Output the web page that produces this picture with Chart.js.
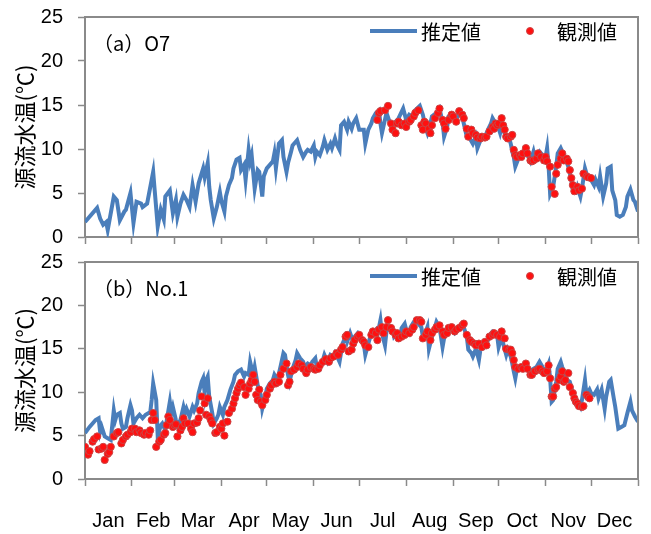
<!DOCTYPE html>
<html><head><meta charset="utf-8">
<script src="https://cdn.jsdelivr.net/npm/chart.js@4.4.0/dist/chart.umd.min.js"></script>
<style>
html,body{margin:0;padding:0;background:#fff;}
#wrap{position:relative;width:651px;height:534px;}
canvas{position:absolute;left:0;}
</style></head><body>
<div id="wrap">
<canvas id="c1" width="651" height="250" style="top:0"></canvas>
<canvas id="c2" width="651" height="284" style="top:250px"></canvas>
</div>
<script>
// ---- categories / ticks ----
const monthBounds = [0,31,59,90,120,151,181,212,243,273,304,334,365];
const monthLabels = ['Jan','Feb','Mar','Apr','May','Jun','Jul','Aug','Sep','Oct','Nov','Dec'];
const yTicks = [0,5,10,15,20,25];
const yTitle = '源流水温(℃)';
const seriesNames = ['推定値','観測値'];
const panelTitles = ['（a）O7','（b）No.1'];

// ---- (a) O7 estimated ----
const o7EstDays = [0,8,10,12,14,15,19,21,23,26,27,30,32,34,37,38,41,45,46,48,50,52,53,56,58,60,61,63,65,67,69,71,73,75,78,79,81,82,83,85,87,89,90,92,93,95,97,98,100,102,103,105,106,108,109,110,112,114,115,117,118,120,122,124,125,126,128,130,131,133,134,136,137,140,142,144,146,147,149,151,152,153,155,157,158,160,162,163,165,166,168,169,171,173,174,176,177,179,181,184,185,187,189,190,192,194,195,196,199,201,203,205,207,210,212,214,216,218,221,223,225,226,228,229,232,234,236,237,239,240,243,245,247,249,250,252,254,256,258,259,261,264,266,268,269,271,272,274,275,278,280,281,282,283,284,286,288,290,292,294,296,297,300,302,304,305,306,307,309,311,312,314,316,317,319,321,322,324,325,327,328,330,332,334,336,337,339,340,342,344,345,347,348,350,351,353,355,357,358,360,362,363,365];
const o7EstVals = [1.7,3.3,2.1,1.4,1.7,0.8,4.6,4.2,1.9,2.9,3.1,5.0,1.6,4.0,3.8,3.4,3.8,7.4,5.3,1.2,3.1,2.0,4.6,5.3,2.7,4.2,2.3,3.8,4.8,4.2,3.4,5.9,4.0,6.1,7.8,6.8,8.4,5.7,4.2,2.1,3.4,5.1,4.1,2.9,4.6,5.9,6.7,7.8,8.8,9.0,7.6,8.2,6.5,9.9,8.6,9.3,5.5,7.6,7.4,4.6,6.9,7.8,8.2,8.6,9.5,7.8,10.6,11.0,9.1,7.4,8.4,9.7,10.4,11.0,9.9,9.1,9.7,9.9,9.7,10.4,9.1,9.7,9.3,10.3,11.0,9.9,10.6,10.1,11.2,10.6,9.9,12.7,13.1,12.2,13.1,12.3,12.9,13.5,12.2,12.2,10.6,12.2,12.9,13.5,14.1,14.4,12.9,11.8,14.1,13.1,12.7,13.1,13.5,14.6,13.3,13.9,13.7,14.4,14.9,13.9,12.3,11.8,12.9,13.7,14.1,14.6,13.1,11.4,12.5,13.7,13.9,13.3,14.2,13.7,12.9,11.4,11.2,10.6,11.4,10.1,11.0,11.4,12.2,12.9,13.5,12.9,12.9,11.8,12.5,11.4,11.2,10.6,9.7,9.1,8.0,8.9,9.3,9.9,9.3,8.6,9.7,8.9,9.7,9.3,9.1,10.1,8.0,4.9,5.7,8.0,9.5,10.1,9.3,8.9,8.0,6.5,5.3,5.1,5.7,4.6,5.5,7.8,6.6,6.5,5.9,6.5,5.7,6.9,4.6,6.1,7.8,8.0,5.3,4.2,2.5,2.3,2.5,3.4,4.6,5.4,4.2,4.0,2.9];

// ---- (a) O7 observed ----
const o7ObsDays = [193,194,195,198,200,202,203,205,206,207,209,211,212,214,215,217,218,220,222,223,224,225,227,228,229,231,233,234,236,237,238,240,242,243,245,247,249,250,252,253,255,256,258,259,261,262,264,265,267,269,270,271,272,273,275,276,277,278,279,281,282,283,284,285,287,288,289,291,292,294,295,296,298,299,301,303,304,305,307,308,310,311,312,314,315,316,318,319,320,321,322,323,325,326,328,329,331,332,334];
const o7ObsVals = [13.3,14.1,14.3,14.4,14.9,12.9,12.2,11.8,12.9,13.1,12.7,12.9,12.5,13.1,13.3,13.7,14.1,14.4,12.7,12.2,13.1,12.9,12.3,11.8,12.7,13.5,14.1,14.6,13.3,12.9,12.3,13.3,13.9,13.7,13.1,14.3,13.9,13.5,12.3,11.4,12.2,11.8,11.6,11.3,11.2,11.4,11.3,11.4,12.0,12.5,12.3,12.9,12.7,12.9,13.5,12.7,12.2,11.4,11.2,11.4,11.6,9.9,9.3,9.1,9.3,9.1,9.5,10.1,9.5,8.7,8.6,8.7,8.9,9.5,9.1,8.7,9.1,8.6,8.0,5.7,4.9,7.2,8.2,8.9,9.5,8.7,8.9,8.6,7.6,6.7,5.9,5.2,5.7,5.3,5.5,7.2,6.9,6.8,6.7];

// ---- (b) No.1 estimated ----
const n1EstDays = [0,3,5,7,9,10,11,13,15,17,19,20,21,23,24,25,27,28,30,31,32,34,36,38,40,42,43,44,45,47,48,50,51,53,54,56,57,58,60,61,63,65,66,67,69,71,72,74,75,77,78,79,80,81,82,84,85,87,88,89,91,92,94,96,98,99,101,103,105,106,108,109,111,112,114,116,117,119,120,122,124,125,127,129,131,132,134,135,137,139,140,142,144,145,147,149,150,152,153,155,157,158,160,162,164,165,167,168,170,172,173,175,177,178,180,182,184,185,187,188,190,192,193,195,196,198,199,201,203,204,206,208,209,211,212,214,215,217,219,220,222,223,225,226,227,229,231,232,234,236,237,239,241,242,244,245,247,249,250,252,253,255,256,258,260,261,264,266,267,269,271,272,273,275,276,278,279,281,282,283,284,285,287,289,291,293,295,298,300,302,304,306,307,308,309,311,312,314,315,317,318,320,322,323,325,327,328,330,331,333,334,336,338,339,341,343,344,346,347,349,350,352,354,356,358,360,361,363,365];
const n1EstVals = [5.3,6.0,6.4,6.8,7.0,5.4,6.0,4.9,4.7,4.5,7.9,6.8,7.4,7.6,6.4,5.8,6.0,7.0,8.5,7.9,6.4,7.0,7.4,7.0,7.4,7.6,7.6,9.1,11.0,9.1,4.9,6.2,6.4,5.6,6.8,8.9,7.6,8.3,6.8,6.2,6.8,8.3,7.6,8.1,7.2,8.3,7.9,8.7,9.9,11.2,11.6,9.9,11.4,11.8,9.5,7.6,6.4,7.0,7.4,8.3,7.4,8.3,9.1,10.3,11.2,12.0,12.4,12.6,11.8,12.2,12.0,13.5,12.0,12.9,10.8,9.7,8.1,9.5,10.4,11.0,11.4,12.0,11.4,12.9,14.5,14.3,12.0,11.2,12.7,13.7,14.5,13.9,13.5,12.9,13.3,13.1,13.5,13.9,12.9,12.7,13.7,14.3,13.5,14.3,14.1,14.5,13.9,13.5,15.6,16.4,15.8,16.8,15.8,16.4,16.8,16.2,15.6,14.3,15.6,16.2,16.8,17.2,16.6,18.3,16.8,15.4,17.0,17.5,17.2,16.4,16.8,16.4,17.4,17.9,17.2,16.8,17.5,18.1,18.3,17.9,17.5,16.4,17.0,17.5,15.0,16.4,17.5,18.1,17.5,15.2,16.2,17.0,17.5,17.2,16.8,17.0,17.5,17.9,17.5,16.4,14.9,14.5,14.1,15.0,13.7,14.9,15.2,16.0,16.6,17.0,16.8,16.6,15.2,16.4,15.6,14.3,14.9,14.1,13.3,12.4,11.6,12.6,12.9,12.6,13.1,12.4,12.6,12.9,13.5,12.9,12.4,13.3,11.6,8.9,9.1,11.2,12.7,13.5,12.9,12.2,11.4,11.2,9.9,9.1,8.9,8.3,9.1,11.4,9.7,10.3,9.9,9.7,10.3,9.3,10.3,8.1,9.5,11.2,11.4,9.3,8.3,5.8,6.0,6.2,7.6,8.9,7.9,7.2,6.6];

// ---- (b) No.1 observed ----
const n1ObsDays = [0,2,3,5,6,8,9,11,12,13,15,16,17,19,21,22,24,25,27,28,30,31,33,34,36,37,39,40,42,43,44,45,46,47,49,50,52,53,54,55,56,58,59,60,61,63,64,65,66,68,70,71,72,74,75,76,77,79,80,81,82,83,84,86,87,89,90,91,92,94,95,97,98,99,100,101,102,103,105,106,108,109,110,111,112,113,114,115,116,117,119,120,122,123,125,126,128,129,131,133,134,135,136,138,140,141,143,144,146,147,149,151,152,154,155,157,159,161,162,164,166,167,169,170,172,173,174,176,177,178,180,181,183,184,185,187,189,190,192,193,194,196,197,199,200,202,203,205,206,207,209,211,212,214,216,217,219,221,222,223,225,226,228,229,231,232,234,236,237,239,240,242,244,245,247,249,250,252,254,255,257,258,260,262,264,265,267,269,270,272,274,275,277,278,280,281,282,283,284,286,288,289,291,292,294,295,297,299,300,302,303,305,306,307,308,309,310,311,313,314,315,316,317,319,320,322,323,324,325,326,328,329,331,332,333];
const n1ObsVals = [3.7,2.8,3.2,4.3,4.6,4.9,3.4,3.5,3.7,2.2,2.9,3.1,3.7,4.9,5.3,5.4,4.1,4.5,4.9,5.1,5.4,5.8,5.8,5.4,5.6,5.3,5.1,5.3,5.1,5.6,6.8,7.6,6.8,3.7,4.3,4.5,5.1,5.3,6.2,7.2,6.8,6.0,6.2,6.3,4.9,5.6,6.0,7.0,6.4,6.4,5.8,5.4,6.4,6.5,7.0,7.9,9.5,8.7,7.4,9.3,7.2,6.8,6.4,5.3,5.4,6.0,5.8,6.4,5.0,6.6,7.6,8.1,8.7,9.3,9.9,10.4,10.8,11.1,10.6,9.7,10.4,11.0,11.4,12.0,11.2,9.7,9.1,10.3,8.9,8.5,9.1,9.7,10.4,10.8,11.2,11.0,11.2,12.0,12.7,13.3,10.8,11.2,12.4,12.6,12.9,13.3,13.1,12.7,12.2,12.6,12.9,12.7,12.6,12.7,13.1,13.5,13.8,13.5,13.9,14.1,14.5,14.3,14.9,15.2,16.4,16.6,14.7,14.9,15.6,16.0,16.4,16.6,16.0,15.8,15.4,15.2,16.6,17.0,16.8,16.0,17.2,17.5,16.8,17.5,18.3,17.4,17.0,16.6,16.8,16.2,16.4,16.6,17.0,16.8,17.2,17.5,18.3,18.3,18.1,16.2,16.6,17.0,16.0,16.8,17.2,17.5,17.7,17.0,16.6,16.8,17.4,17.5,17.0,17.2,17.4,17.7,17.9,16.6,16.0,15.8,15.6,15.4,15.6,15.2,15.8,15.4,16.4,16.6,16.8,16.6,16.4,17.0,16.2,15.0,14.9,14.9,14.5,13.7,12.9,12.7,12.9,12.7,13.3,12.7,12.0,12.0,12.4,12.6,12.7,12.4,12.2,12.4,13.1,11.6,9.5,9.5,10.4,10.6,11.4,11.8,12.4,11.2,11.4,12.2,10.6,9.9,9.3,8.9,8.7,8.4,8.3,8.4,9.7,9.5,9.3];

// ---- styling ----
const AXIS = '#8a8a8a';
const BLUE = '#4a7ebb';
const RED = '#ff1010';
const RED_EDGE = '#cc4444';
const LAT = '"Liberation Sans", Arial, sans-serif';
const CJK = '"Noto Sans CJK JP", sans-serif';

function pts(days, vals){ return days.map((d,i)=>({x:d, y:vals[i]})); }

const framePlugin = {
  id:'frame',
  afterDraw(chart, args, opts){
    const {ctx, chartArea:a} = chart;
    ctx.save();
    ctx.strokeStyle = AXIS; ctx.lineWidth = 2;
    ctx.beginPath();
    ctx.moveTo(a.left, a.top); ctx.lineTo(a.right, a.top); ctx.lineTo(a.right, a.bottom);
    ctx.stroke();
    // panel label
    ctx.fillStyle = '#000';
    ctx.font = '20px ' + CJK;
    ctx.textBaseline = 'middle'; ctx.textAlign = 'left';
    ctx.fillText(opts.label, a.left + 8, a.top + 26);
    // legend
    const ly = a.top + 14;
    const est = chart.data.datasets[1], obs = chart.data.datasets[0];
    ctx.strokeStyle = est.borderColor; ctx.lineWidth = 4;
    ctx.beginPath(); ctx.moveTo(370, ly); ctx.lineTo(417, ly); ctx.stroke();
    ctx.fillStyle = '#000';
    ctx.fillText(est.label, 421, ly + 1);
    ctx.beginPath(); ctx.arc(530, ly, 3.5, 0, Math.PI*2);
    ctx.fillStyle = obs.backgroundColor; ctx.fill();
    ctx.strokeStyle = obs.borderColor; ctx.lineWidth = 1; ctx.stroke();
    ctx.fillStyle = '#000';
    ctx.fillText(obs.label, 557, ly + 1);
    ctx.restore();
  }
};

function makeChart(id, estD, estV, obsD, obsV, label, showMonths, topPad, xH){
  const isBound = v => monthBounds.includes(v);
  return new Chart(document.getElementById(id), {
    type:'scatter',
    data:{datasets:[
      {label:seriesNames[1], data:pts(obsD, obsV), showLine:false, pointRadius:3.6, pointHoverRadius:3.6,
       backgroundColor:RED, borderColor:RED_EDGE, borderWidth:1, order:0},
      {label:seriesNames[0], data:pts(estD, estV), showLine:true, borderColor:BLUE, borderWidth:4,
       backgroundColor:BLUE, pointRadius:0, tension:0, order:1}
    ]},
    options:{
      responsive:false, animation:false,
      layout:{padding:{top:topPad, right:13, left:0, bottom:0}},
      plugins:{legend:{display:false}, tooltip:{enabled:false}, frame:{label}},
      scales:{
        x:{type:'linear', min:0, max:365,
          afterBuildTicks:s=>{
            const t = monthBounds.map(v=>({value:v}));
            if(showMonths) monthBounds.slice(0,-1).forEach((b,i)=>t.push({value:(b+monthBounds[i+1])/2}));
            t.sort((p,q)=>p.value-q.value);
            s.ticks = t;
          },
          afterFit:s=>{s.height = xH; s.paddingLeft = 0; s.paddingRight = 0; s.paddingTop = 0; s.paddingBottom = 0;},
          ticks:{autoSkip:false, maxRotation:0, minRotation:0, padding:showMonths?23:0, color:'#000',
            font:{family:LAT, size:20},
            callback:(v)=>{ if(isBound(v)) return ''; const i = monthBounds.findIndex((b,k)=>k<12 && v>b && v<monthBounds[k+1]); return i>=0?monthLabels[i]:''; }},
          grid:{drawOnChartArea:false, drawTicks:true, tickLength:7, tickWidth:1.5,
            tickColor:(c)=> (c.tick && isBound(c.tick.value)) ? AXIS : 'rgba(0,0,0,0)'},
          border:{color:AXIS, width:2}
        },
        y:{min:0, max:25,
          afterBuildTicks:s=>{ s.ticks = yTicks.map(v=>({value:v})); },
          afterFit:s=>{s.width = 85; s.paddingTop = 0; s.paddingBottom = 0; s.paddingLeft = 0; s.paddingRight = 0;},
          ticks:{padding:15, color:'#000', font:{family:LAT, size:20, lineHeight:1}},
          grid:{drawOnChartArea:false, tickLength:7, tickWidth:1.5, tickColor:AXIS},
          border:{color:AXIS, width:2},
          title:{display:true, text:yTitle, color:'#000', font:{family:CJK, size:22, lineHeight:1.2}, padding:{top:11, bottom:0}}
        }
      }
    },
    plugins:[framePlugin]
  });
}

makeChart('c1', o7EstDays, o7EstVals, o7ObsDays, o7ObsVals, panelTitles[0], false, 17, 13);
makeChart('c2', n1EstDays, n1EstVals, n1ObsDays, n1ObsVals, panelTitles[1], true, 12, 55);
</script>
</body></html>
